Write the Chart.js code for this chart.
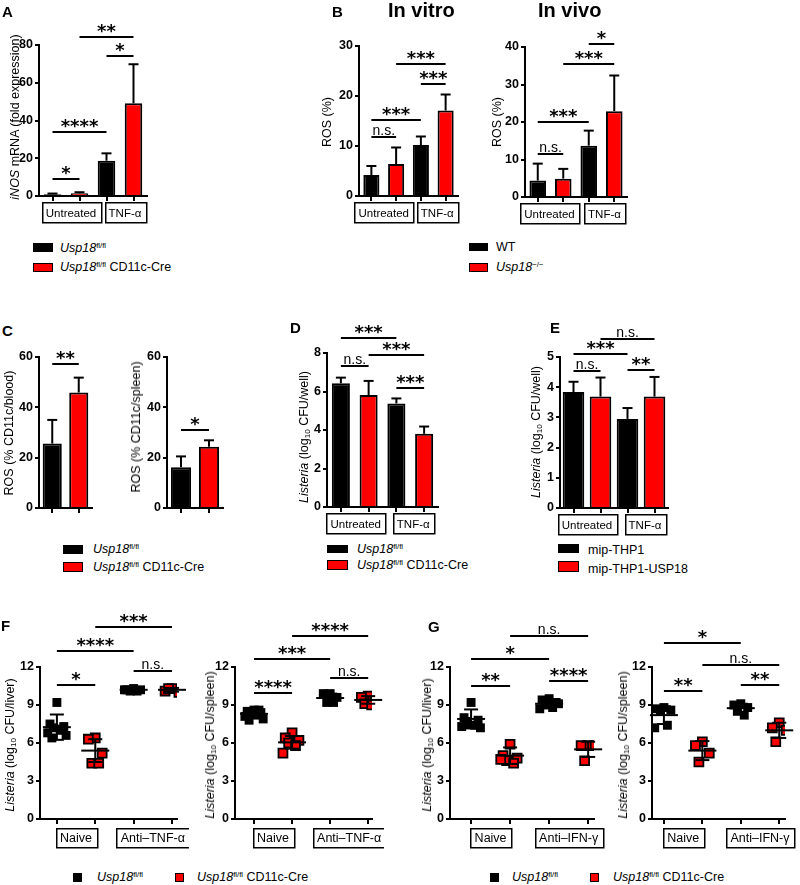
<!DOCTYPE html>
<html>
<head>
<meta charset="utf-8">
<script src="https://cdn.jsdelivr.net/npm/chart.js@4.4.0/dist/chart.umd.min.js"></script>
<style>
  body { margin: 0; width: 800px; height: 885px; position: relative; background: #fff; overflow: hidden;
         font-family: "Liberation Sans", Arial, sans-serif; color: #000; }
  canvas { position: absolute; }
  .yl { position: absolute; white-space: nowrap; font-size: 12.5px; transform: translate(-50%, -50%) rotate(-90deg); }
  .lt { position: absolute; white-space: nowrap; font-size: 12.5px; line-height: 16px; }
  .sw { position: absolute; box-sizing: border-box; border: 1.5px solid #000; }
  .letter { position: absolute; font-weight: bold; font-size: 15px; line-height: 15px; }
  .title { position: absolute; font-weight: bold; font-size: 20px; line-height: 20px; }
  sup { font-size: 62%; line-height: 0; vertical-align: 0.55em; }
  sub { font-size: 65%; line-height: 0; vertical-align: -0.2em; }
</style>
</head>
<body>
<script>
const FONT = '"Liberation Sans", Arial, sans-serif';

// categories / groups
const barCats = ['ctrl untreated', 'ko untreated', 'ctrl TNF', 'ko TNF'];
const twoCats = ['Usp18 fl/fl', 'Usp18 fl/fl CD11c-Cre'];
const tnfGroups = [[0, 1, 'Untreated'], [2, 3, 'TNF-α']];
const antiTnfGroups = [[0, 1, 'Naive'], [2, 3, 'Anti–TNF-α']];
const antiIfnGroups = [[0, 1, 'Naive'], [2, 3, 'Anti–IFN-γ']];

// A  iNOS
const aMean = [0.9, 1.4, 18.7, 49.1];
const aErr = [1.3, 2.0, 22.6, 69.8];
const aSig = [[0, 1, 9.0, '*'], [0, 2, 33.9, '****'], [2, 3, 74.2, '*'], [1, 3, 84.2, '**']];

// B  ROS in vitro / in vivo
const bVitroMean = [4.2, 6.4, 10.2, 17.1];
const bVitroErr = [6.0, 9.7, 11.9, 20.3];
const bVitroSig = [[0, 1, 11.8, 'n.s.'], [0, 2, 15.2, '***'], [2, 3, 22.4, '***'], [1, 3, 26.4, '***']];
const bVivoMean = [4.4, 4.9, 13.7, 22.9];
const bVivoErr = [8.9, 7.5, 17.7, 32.4];
const bVivoSig = [[0, 1, 11.5, 'n.s.'], [0, 2, 20.0, '***'], [1, 3, 35.5, '***'], [2, 3, 40.8, '*']];

// C  ROS blood / spleen
const cBloodMean = [25.6, 45.9];
const cBloodErr = [35.0, 51.8];
const cBloodSig = [[0, 1, 57.2, '**']];
const cSpleenMean = [16.2, 24.3];
const cSpleenErr = [20.5, 26.9];
const cSpleenSig = [[0, 1, 31.0, '*']];

// D  Listeria CFU/well
const dMean = [6.43, 5.82, 5.38, 3.8];
const dErr = [6.72, 6.55, 5.64, 4.18];
const dSig = [[0, 2, 8.78, '***'], [1, 3, 7.9, '***'], [0, 1, 7.32, 'n.s.'], [2, 3, 6.18, '***']];

// E  THP1
const eMean = [3.84, 3.69, 2.95, 3.69];
const eErr = [4.18, 4.32, 3.31, 4.34];
const eSig = [[0, 1, 4.54, 'n.s.'], [0, 2, 5.1, '***'], [2, 3, 4.57, '**'], [1, 3, 5.6, 'n.s.']];

// F  anti-TNF in vivo (points per group)
const fLiver = [[9.2, 7.5, 7.3, 7.2, 7.0, 6.8, 6.6, 6.4, 7.1], [6.4, 6.3, 5.2, 4.4, 4.4],
                [10.3, 10.2, 10.2, 10.1, 10.1, 10.2], [10.3, 10.1, 10.0, 10.3]];
const fLiverMean = [7.25, 5.4, 10.2, 10.2];
const fLiverSD = [1.0, 0.9, 0.1, 0.15];
const fLiverSig = [[0, 1, 10.58, '*'], [0, 2, 13.26, '****'], [1, 3, 15.16, '***'], [2, 3, 11.68, 'n.s.']];
const fSpleen = [[8.6, 8.5, 8.4, 8.3, 8.2, 8.1, 7.9, 7.8, 8.6], [6.8, 6.4, 6.2, 6.0, 5.8, 5.2],
                 [9.9, 9.9, 9.6, 9.2, 9.2], [9.7, 9.6, 9.2, 9.1, 9.0]];
const fSpleenMean = [8.3, 6.05, 9.55, 9.4];
const fSpleenSD = [0.3, 0.5, 0.35, 0.3];
const fSpleenSig = [[0, 1, 9.95, '****'], [0, 2, 12.63, '***'], [1, 3, 14.45, '****'], [2, 3, 11.13, 'n.s.']];

// G  anti-IFN
const gLiver = [[9.2, 8.0, 7.8, 7.5, 7.4, 7.3, 7.2, 7.7], [5.9, 5.0, 4.8, 4.6, 4.4, 4.7],
                [9.5, 9.4, 9.2, 9.0, 8.8, 8.7, 9.1], [5.8, 5.8, 5.8, 4.6]];
const gLiverMean = [7.9, 5.0, 9.1, 5.5];
const gLiverSD = [0.75, 0.65, 0.3, 0.6];
const gLiverSig = [[0, 1, 10.5, '**'], [0, 2, 12.63, '*'], [1, 3, 14.45, 'n.s.'], [2, 3, 10.9, '****']];
const gSpleen = [[8.8, 8.7, 8.6, 8.5, 7.4, 7.2], [6.1, 5.8, 5.2, 4.5],
                 [9.1, 9.0, 8.8, 8.5, 8.2], [7.6, 7.2, 7.0, 6.1]];
const gSpleenMean = [8.2, 5.4, 8.75, 7.0];
const gSpleenSD = [0.7, 0.75, 0.35, 0.6];
const gSpleenSig = [[0, 1, 10.1, '**'], [0, 2, 13.9, '*'], [1, 3, 12.16, 'n.s.'], [2, 3, 10.58, '**']];

const jitter = [0, -0.18, 0.18, -0.09, 0.09, -0.24, 0.24, -0.13, 0.13];
const barColors = ['#000', '#f00', '#000', '#f00'];

const YW = 30, XH = 8, PR = 12;

function line(ctx, x1, y1, x2, y2) {
  ctx.beginPath(); ctx.moveTo(x1, y1); ctx.lineTo(x2, y2); ctx.stroke();
}

// error bars, mean/SD, significance bars and group boxes
const annot = {
  id: 'annot',
  afterDatasetsDraw(chart, args, o) {
    const { ctx, chartArea } = chart;
    const x = chart.scales.x, y = chart.scales.y;
    ctx.save();
    ctx.strokeStyle = '#000';
    ctx.fillStyle = '#000';
    ctx.lineWidth = 2;
    if (o.err) {
      o.err.forEach((e, i) => {
        const px = x.getPixelForValue(i);
        const y0 = y.getPixelForValue(o.mean[i]);
        const y1 = y.getPixelForValue(e);
        line(ctx, px, y0, px, y1);
        line(ctx, px - 5, y1, px + 5, y1);
      });
    }
    if (o.sd) {
      o.mean.forEach((m, i) => {
        const px = x.getPixelForValue(i);
        const yt = y.getPixelForValue(m + o.sd[i]), yb = y.getPixelForValue(m - o.sd[i]);
        line(ctx, px, yt, px, yb);
        line(ctx, px - 7, yt, px + 7, yt);
        line(ctx, px - 7, yb, px + 7, yb);
        const ym = y.getPixelForValue(m);
        line(ctx, px - 14, ym, px + 14, ym);
      });
    }
    (o.sig || []).forEach(([i, j, v, label]) => {
      const x1 = x.getPixelForValue(i), x2 = x.getPixelForValue(j);
      const py = Math.round(y.getPixelForValue(v));
      line(ctx, x1, py, x2, py);
      const stars = label.indexOf('*') >= 0;
      ctx.font = stars ? 'bold 18px "DejaVu Sans"' : '14px ' + FONT;
      const m = ctx.measureText(label);
      const gap = stars ? 3 : 1.5;
      ctx.textAlign = 'center';
      ctx.textBaseline = 'alphabetic';
      ctx.fillText(label, (x1 + x2) / 2, py - 1 - gap - m.actualBoundingBoxDescent);
    });
    if (o.groups) {
      ctx.font = o.boxFont + 'px ' + FONT;
      ctx.lineWidth = 1.5;
      o.groups.forEach(([i, j, label], k) => {
        const cx = (x.getPixelForValue(i) + x.getPixelForValue(j)) / 2 + (o.boxShift ? o.boxShift[k] : 0);
        const w = ctx.measureText(label).width + 2 * o.boxPad;
        const top = chartArea.bottom + o.boxGap;
        ctx.strokeRect(Math.round(cx - w / 2) + 0.75, top + 0.75, Math.round(w), o.boxH);
        ctx.textAlign = 'center';
        ctx.textBaseline = 'middle';
        ctx.fillText(label, cx, top + o.boxH / 2 + 1.5);
      });
    }
    ctx.restore();
  }
};

function axisY(max, step) {
  return {
    min: 0, max: max,
    ticks: { stepSize: step, color: '#000', padding: 2, font: { family: FONT, weight: 'bold', size: 12.5 } },
    grid: { drawOnChartArea: false, color: '#000', lineWidth: 2, tickLength: 4 },
    border: { color: '#000', width: 2 },
    afterFit: (s) => { s.width = YW; }
  };
}

function place(c, box) {
  const W = YW + (box.R - box.L) + PR;
  const H = box.PT + (box.B - box.T) + XH + box.PB;
  c.width = W; c.height = H;
  c.style.left = (box.L - YW) + 'px';
  c.style.top = (box.T - box.PT) + 'px';
  document.body.appendChild(c);
}

function barChart(box, labels, mean, err, sig, max, step, barPct, groups, boxShift) {
  const c = document.createElement('canvas');
  place(c, box);
  new Chart(c, {
    type: 'bar',
    data: {
      labels: labels,
      datasets: [{ data: mean, backgroundColor: barColors.slice(0, mean.length), borderColor: '#000',
                   borderWidth: 2, barPercentage: barPct, categoryPercentage: 1 }]
    },
    options: {
      responsive: false, animation: false, events: [],
      layout: { padding: { top: box.PT, right: PR, bottom: box.PB, left: 0 } },
      plugins: {
        legend: { display: false }, tooltip: { enabled: false },
        annot: { mean: mean, err: err, sig: sig, groups: groups, boxShift: boxShift,
                 boxFont: 11.5, boxPad: 4, boxGap: 6, boxH: 20 }
      },
      scales: {
        x: {
          ticks: { display: false },
          grid: { drawOnChartArea: false, color: '#000', lineWidth: 2, tickLength: 5, offset: false },
          border: { color: '#000', width: 2 },
          afterFit: (s) => { s.height = XH; }
        },
        y: axisY(max, step)
      }
    },
    plugins: [annot]
  });
}

function dotChart(box, xMin, xMax, groupsPts, mean, sd, sig, groups) {
  const c = document.createElement('canvas');
  place(c, box);
  const datasets = groupsPts.map((vals, g) => ({
    data: vals.map((v, k) => ({ x: g + jitter[k % jitter.length], y: v })),
    pointStyle: 'rect', pointRadius: 6.3,
    backgroundColor: g % 2 ? '#f00' : '#000', borderColor: '#000', borderWidth: g % 2 ? 1.8 : 0
  }));
  new Chart(c, {
    type: 'scatter',
    data: { datasets: datasets },
    options: {
      responsive: false, animation: false, events: [],
      layout: { padding: { top: box.PT, right: PR, bottom: box.PB, left: 0 } },
      plugins: {
        legend: { display: false }, tooltip: { enabled: false },
        annot: { mean: mean, sd: sd, sig: sig, groups: groups, boxFont: 12.5, boxPad: 4.5, boxGap: 9, boxH: 19 }
      },
      scales: {
        x: {
          type: 'linear', min: xMin, max: xMax,
          afterBuildTicks: (s) => { s.ticks = [0, 1, 2, 3].map(v => ({ value: v })); },
          ticks: { display: false },
          grid: { drawOnChartArea: false, color: '#000', lineWidth: 2, tickLength: 5 },
          border: { color: '#000', width: 2 },
          afterFit: (s) => { s.height = XH; }
        },
        y: axisY(12, 3)
      }
    },
    plugins: [annot]
  });
}

// bar panels
barChart({ L: 39, R: 147, T: 45, B: 196, PT: 28, PB: 22 }, barCats, aMean, aErr, aSig, 80, 20, 0.65, tnfGroups, [5, 5]);
barChart({ L: 359, R: 458, T: 46, B: 196, PT: 28, PB: 22 }, barCats, bVitroMean, bVitroErr, bVitroSig, 30, 10, 0.65, tnfGroups, [0, 4]);
barChart({ L: 525, R: 627, T: 47, B: 197, PT: 28, PB: 22 }, barCats, bVivoMean, bVivoErr, bVivoSig, 40, 10, 0.65, tnfGroups, [-1, 3]);
barChart({ L: 39, R: 92, T: 357, B: 508, PT: 16, PB: 4 }, twoCats, cBloodMean, cBloodErr, cBloodSig, 60, 20, 0.72, null);
barChart({ L: 167, R: 223, T: 357, B: 508, PT: 16, PB: 4 }, twoCats, cSpleenMean, cSpleenErr, cSpleenSig, 60, 20, 0.72, null);
barChart({ L: 327, R: 438, T: 353, B: 507, PT: 32, PB: 22 }, barCats, dMean, dErr, dSig, 8, 2, 0.65, tnfGroups, [1, 3]);
barChart({ L: 560, R: 668, T: 357, B: 508, PT: 36, PB: 22 }, barCats, eMean, eErr, eSig, 5, 1, 0.8, tnfGroups, [0, 4]);

// dot panels
dotChart({ L: 40, R: 177, T: 667, B: 819, PT: 59, PB: 24 }, -0.44, 3.13, fLiver, fLiverMean, fLiverSD, fLiverSig, antiTnfGroups);
dotChart({ L: 235, R: 372, T: 667, B: 819, PT: 59, PB: 24 }, -0.5, 3.1, fSpleen, fSpleenMean, fSpleenSD, fSpleenSig, antiTnfGroups);
dotChart({ L: 450, R: 594, T: 667, B: 819, PT: 59, PB: 24 }, -0.54, 3.15, gLiver, gLiverMean, gLiverSD, gLiverSig, antiIfnGroups);
dotChart({ L: 652, R: 785, T: 667, B: 819, PT: 59, PB: 24 }, -0.31, 3.15, gSpleen, gSpleenMean, gSpleenSD, gSpleenSig, antiIfnGroups);

// text: letters, titles, axis labels, legends
function add(cls, x, y, html) {
  const d = document.createElement('div');
  d.className = cls; d.style.left = x + 'px'; d.style.top = y + 'px'; d.innerHTML = html;
  document.body.appendChild(d);
  return d;
}
function swatch(x, y, w, h, color) {
  const d = add('sw', x, y, '');
  d.style.width = w + 'px'; d.style.height = h + 'px'; d.style.background = color;
}

[['A', 2, 4], ['B', 332, 4], ['C', 2, 323], ['D', 290, 320], ['E', 550, 320], ['F', 1, 618], ['G', 428, 619]]
  .forEach(([t, x, y]) => add('letter', x, y, t));
add('title', 388, 0, 'In vitro');
add('title', 538, 0, 'In vivo');

const lis = '<i>Listeria</i> (log<sub>10</sub> CFU/';
[[15, 117, '<i>iNOS</i> mRNA (fold expression)'], [327, 122, 'ROS (%)'], [497, 122, 'ROS (%)'],
 [9, 433, 'ROS (% CD11c/blood)'], [136, 427, 'ROS (% CD11c/spleen)'],
 [304, 437, lis + 'well)'], [536, 432, lis + 'well)'],
 [10, 745, lis + 'liver)'], [210, 745, lis + 'spleen)'], [427, 745, lis + 'liver)'], [623, 745, lis + 'spleen)']]
  .forEach(([x, y, h]) => add('yl', x, y, h));

const flfl = '<i>Usp18</i><sup>fl/fl</sup>';
const cre = flfl + ' CD11c-Cre';
// A
swatch(33, 243, 20, 9, '#000'); add('lt', 60, 240, flfl);
swatch(33, 263, 20, 9, '#f00'); add('lt', 60, 259, cre);
// B
swatch(469, 243, 19, 8, '#000'); add('lt', 496, 239, 'WT');
swatch(469, 263, 19, 9, '#f00'); add('lt', 496, 259, '<i>Usp18</i><sup>−/−</sup>');
// C
swatch(63, 545, 20, 9, '#000'); add('lt', 93, 541, flfl);
swatch(63, 562, 20, 10, '#f00'); add('lt', 93, 559, cre);
// D
swatch(327, 545, 21, 8, '#000'); add('lt', 357, 541, flfl);
swatch(327, 560, 21, 10, '#f00'); add('lt', 357, 557, cre);
// E
swatch(558, 544, 21, 9, '#000'); add('lt', 588, 542, 'mip-THP1');
swatch(558, 561, 21, 11, '#f00'); add('lt', 588, 561, 'mip-THP1-USP18');
// F
swatch(73, 873, 9, 9, '#000'); add('lt', 97, 869, flfl);
swatch(175, 873, 9, 9, '#f00'); add('lt', 197, 869, cre);
// G
swatch(490, 873, 9, 9, '#000'); add('lt', 512, 869, flfl);
swatch(590, 873, 9, 9, '#f00'); add('lt', 613, 869, cre);
</script>
</body>
</html>
